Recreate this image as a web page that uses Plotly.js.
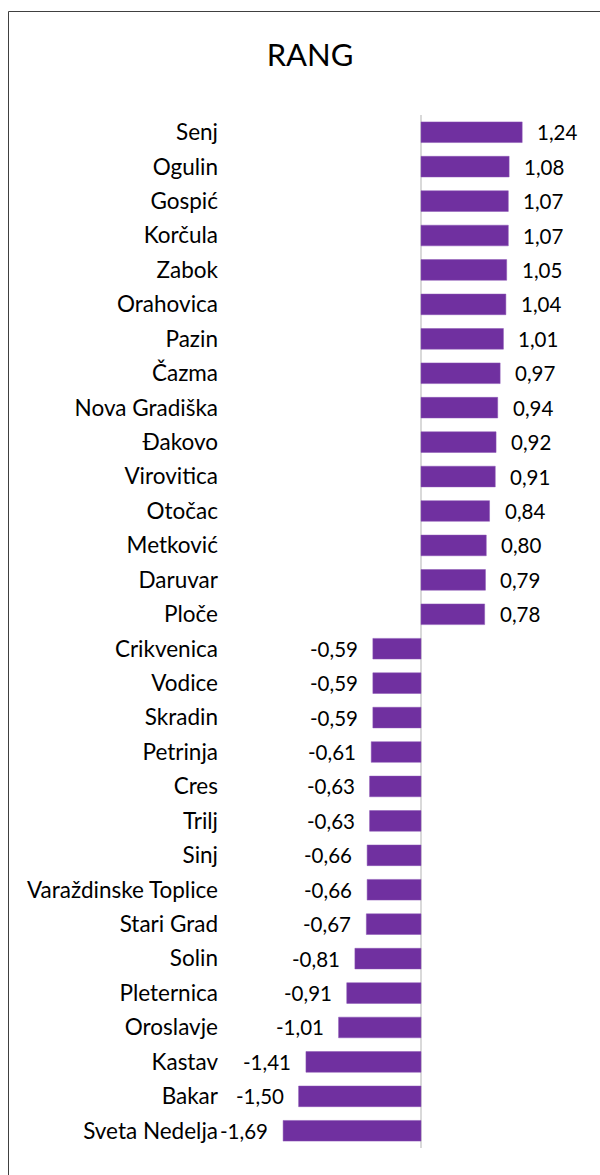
<!DOCTYPE html>
<html>
<head>
<meta charset="utf-8">
<script src="https://cdn.plot.ly/plotly-3.0.1.min.js"></script>
<style>html,body{margin:0;padding:0;background:#fff;}#chart{width:600px;height:1175px;}</style>
</head>
<body>
<div id="chart"></div>
<script>
const categories = ["Senj","Ogulin","Gospić","Korčula","Zabok","Orahovica","Pazin","Čazma","Nova Gradiška","Đakovo","Virovitica","Otočac","Metković","Daruvar","Ploče","Crikvenica","Vodice","Skradin","Petrinja","Cres","Trilj","Sinj","Varaždinske Toplice","Stari Grad","Solin","Pleternica","Oroslavje","Kastav","Bakar","Sveta Nedelja"];
const values = [1.24,1.08,1.07,1.07,1.05,1.04,1.01,0.97,0.94,0.92,0.91,0.84,0.80,0.79,0.78,-0.59,-0.59,-0.59,-0.61,-0.63,-0.63,-0.66,-0.66,-0.67,-0.81,-0.91,-1.01,-1.41,-1.50,-1.69];
const valueLabels = values.map(v => v.toFixed(2).replace('.', ','));

const FONT = 'Lato, "Open Sans", sans-serif';
const W = 600, H = 1175, L = 223, R = 20, T = 115, B = 27;
const pw = W - L - R, ph = H - T - B;
const px2x = p => (p - L) / pw;
const px2y = p => 1 - (p - T) / ph;

const annotations = values.map((v, i) => ({
  x: v, y: categories[i], xref: 'x', yref: 'y',
  text: valueLabels[i], showarrow: false,
  xanchor: v >= 0 ? 'left' : 'right',
  xshift: v >= 0 ? 13 : -13,
  font: {family: FONT, size: 20.5, color: '#000'}
}));

const trace = {
  type: 'bar', orientation: 'h',
  x: values, y: categories,
  marker: {color: '#7030A0', line: {color: '#8a55b5', width: 0.5}},
  hoverinfo: 'none'
};

const layout = {
  width: W, height: H,
  margin: {l: L, r: R, t: T, b: B, pad: 0},
  paper_bgcolor: '#fff', plot_bgcolor: '#fff',
  showlegend: false,
  bargap: 0.4,
  title: {text: 'RANG', x: 310/600, xref: 'container', xanchor: 'center', y: 1 - 55/1175, yref: 'container', yanchor: 'middle',
          font: {family: FONT, size: 31, color: '#000'}},
  xaxis: {range: [-(421 - L) / 81.6, (W - R - 421) / 81.6], showticklabels: false, showgrid: false,
          zeroline: true, zerolinecolor: '#d9d9d9', zerolinewidth: 2, ticks: '', showline: false, fixedrange: true},
  yaxis: {type: 'category', autorange: 'reversed', showgrid: false, zeroline: false, ticks: '', showline: false,
          tickfont: {family: FONT, size: 22.5, color: '#000'}, ticklabelstandoff: 4, fixedrange: true},
  annotations: annotations,
  shapes: [
    {type: 'path', xref: 'paper', yref: 'paper',
     path: `M ${px2x(8.5)} ${px2y(1300)} L ${px2x(8.5)} ${px2y(11.5)} L ${px2x(700)} ${px2y(11.5)}`,
     line: {color: '#404040', width: 1}}
  ]
};

Plotly.newPlot('chart', [trace], layout, {displayModeBar: false, staticPlot: true});
</script>
</body>
</html>
